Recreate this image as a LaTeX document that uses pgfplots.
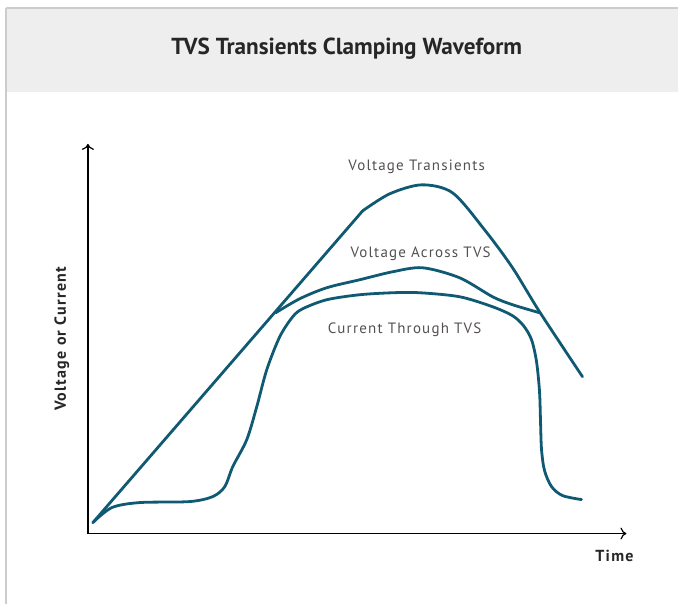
\documentclass[border=0pt]{standalone}
\usepackage{pgfplots}
\pgfplotsset{compat=1.18}
\usetikzlibrary{arrows.meta}
\usepackage{fontspec}
\setmainfont{PT Sans}
\newfontfamily\trackfont[LetterSpace=8]{PT Sans}
\definecolor{wave}{HTML}{0F5A72}
\definecolor{band}{HTML}{EEEEEE}
\definecolor{bandline}{HTML}{CCCCCC}
\definecolor{ann}{HTML}{555050}
\begin{document}
\begin{tikzpicture}
\begin{axis}[
  hide axis, scale only axis,
  width=679pt, height=605pt,
  xmin=0, xmax=679, ymin=0, ymax=605,
  y dir=reverse,
  clip=false,
]
\path (axis cs:0,0) rectangle (axis cs:679,605);
% frame and title band
\fill[band] (axis cs:6,8) rectangle (axis cs:679,92);
\draw[bandline, line width=1.2pt] (axis cs:6,8) -- (axis cs:679,8);
\draw[bandline, line width=1.2pt] (axis cs:6,8) -- (axis cs:6,605);
\node[font=\bfseries\fontsize{23.2}{26}\selectfont, text=black!85] at (axis cs:347,49) {TVS Transients Clamping Waveform};
% axes
\draw[line width=1.2pt, -{To[length=6pt,width=12pt]}] (axis cs:88,534) -- (axis cs:88,144);
\draw[line width=1.2pt, -{To[length=6pt,width=12pt]}] (axis cs:88,534) -- (axis cs:627,534);
\node[font=\trackfont\bfseries\fontsize{16}{18}\selectfont, rotate=90, text=black!85] at (axis cs:62,339) {Voltage or Current};
\node[font=\trackfont\bfseries\fontsize{16}{18}\selectfont, text=black!85] at (axis cs:615,556) {Time};
% annotations
\node[font=\trackfont\fontsize{15}{17}\selectfont, text=ann] at (axis cs:417,167) {Voltage Transients};
\node[font=\trackfont\fontsize{15}{17}\selectfont, text=ann] at (axis cs:421,254) {Voltage Across TVS};
\node[font=\trackfont\fontsize{15}{17}\selectfont, text=ann] at (axis cs:405,330) {Current Through TVS};
% Voltage transients
\addplot[wave, line width=2.8pt, line cap=round] coordinates {(93,523) (363,211)};
\addplot[wave, line width=2.8pt, line cap=round, smooth, tension=0.5] coordinates {
(363,211) (390,194) (422,185) (453,193) (485,230) (513,268) (540,312) (583,377)};
% Voltage across TVS
\addplot[wave, line width=2.8pt, line cap=round, smooth, tension=0.5] coordinates {
(276,313) (300,299) (327,288) (360,280) (393,272) (423,268) (460,278) (493,297) (513,305) (540,313)};
% Current through TVS
\addplot[wave, line width=2.8pt, line cap=round, smooth, tension=0.5] coordinates {
(93,523) (112,508) (140,503) (190,502) (213,497) (225,487) (233,467) (247,440) (257,407) (267,370) (280,337) (293,317) (303,309) (327,300) (360,295) (393,293) (420,293) (460,297) (493,307) (513,316) (524,326) (532,340) (537,362) (540,392) (541,422) (542,450) (545,471) (552,487) (563,496) (582,500)};
\end{axis}
\end{tikzpicture}
\end{document}
